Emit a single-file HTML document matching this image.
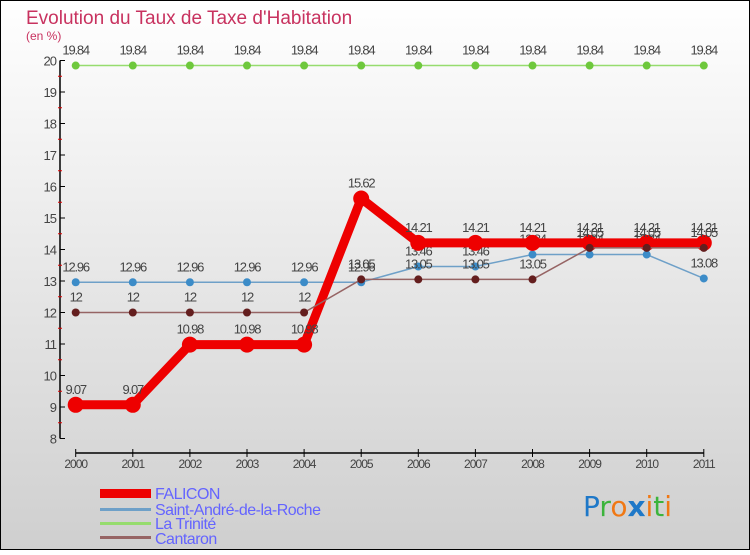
<!DOCTYPE html>
<html><head><meta charset="utf-8"><style>
body{margin:0;}
#c{width:750px;height:550px;position:relative;font-family:"Liberation Sans",sans-serif;}
</style></head><body>
<div id="c">
<svg id="s" width="750" height="550" xmlns="http://www.w3.org/2000/svg" font-family="Liberation Sans, sans-serif">
<defs><linearGradient id="bg" x1="0" y1="0" x2="0" y2="1"><stop offset="0" stop-color="#ffffff"/><stop offset="1" stop-color="#cfcfcf"/></linearGradient></defs>
<rect x="0.5" y="0.5" width="749" height="549" fill="url(#bg)" stroke="#000"/>
<text x="26" y="24" font-size="19" fill="#c8325f">Evolution du Taux de Taxe d'Habitation</text>
<text x="26" y="40" font-size="12" fill="#c8325f">(en %)</text>
<g id="axes"></g><g id="series"></g>
<g font-size="16" fill="#6464ff" letter-spacing="-0.5">
<rect x="100" y="489" width="51" height="9" fill="#e00"/>
<text x="155" y="499">FALICON</text>
<rect x="100" y="508" width="51" height="3" fill="#6ea0c8"/>
<text x="155" y="515">Saint-André-de-la-Roche</text>
<rect x="100" y="522" width="51" height="3" fill="#96dc6e"/>
<text x="155" y="529">La Trinité</text>
<rect x="100" y="536" width="51" height="3" fill="#966464"/>
<text x="155" y="544">Cantaron</text>
</g>
<g font-size="28" font-family="DejaVu Sans, sans-serif">
<text x="583" y="516"><tspan fill="#1e78c8">P</tspan><tspan fill="#3cb43c">r</tspan><tspan fill="#f07814">o</tspan><tspan fill="#1e78c8" font-weight="bold">x</tspan><tspan fill="#f07814">i</tspan><tspan fill="#3cb43c">t</tspan><tspan fill="#f07814">i</tspan></text>
</g>
</svg></div>
<script>
const years=["2000","2001","2002","2003","2004","2005","2006","2007","2008","2009","2010","2011"];
const yTicks=[8,9,10,11,12,13,14,15,16,17,18,19,20];
const falicon=[9.07,9.07,10.98,10.98,10.98,15.62,14.21,14.21,14.21,14.21,14.21,14.21];
const saintAndre=[12.96,12.96,12.96,12.96,12.96,12.96,13.46,13.46,13.84,13.84,13.84,13.08];
const laTrinite=[19.84,19.84,19.84,19.84,19.84,19.84,19.84,19.84,19.84,19.84,19.84,19.84];
const cantaron=[12,12,12,12,12,13.05,13.05,13.05,13.05,14.05,14.05,14.05];
const NS="http://www.w3.org/2000/svg";
const X=i=>75.7+i*57.1;
const Y=v=>438.5-(v-8)*31.5;
function mk(t,a,p){const e=document.createElementNS(NS,t);for(const k in a)e.setAttribute(k,a[k]);(p||document.getElementById('series')).appendChild(e);return e;}
const ax=document.getElementById('axes');
let e=mk('line',{x1:60,y1:Y(20),x2:60,y2:Y(8),stroke:'#000','stroke-width':1.5},ax);

e=mk('line',{x1:X(0),y1:453,x2:X(11),y2:453,stroke:'#000','stroke-width':1.5},ax);

yTicks.forEach((v,i)=>{
 mk('line',{x1:60,y1:Y(v),x2:65,y2:Y(v),stroke:'#000'},ax);
 if(i<yTicks.length-1)mk('line',{x1:58,y1:Y(v+0.5),x2:62,y2:Y(v+0.5),stroke:'#d00'},ax);
 const t=mk('text',{x:56,y:Y(v)+5,'text-anchor':'end','font-size':13,fill:'#444','letter-spacing':'-1'},ax);t.textContent=v;
 
});
years.forEach((y,i)=>{
 mk('line',{x1:X(i),y1:449,x2:X(i),y2:457,stroke:'#000'},ax);
 const t=mk('text',{x:X(i),y:468,'text-anchor':'middle','font-size':12,fill:'#444','letter-spacing':'-1'},ax);t.textContent=y;
 
});
function series(name,data,color,w,r,dot){
 const g=mk('g',{});
 const l=mk('polyline',{points:data.map((v,i)=>X(i)+','+Y(v)).join(' '),fill:'none',stroke:color,'stroke-width':w,'stroke-linejoin':'round'},g);
 
 data.forEach((v,i)=>{
  const c=mk('circle',{cx:X(i),cy:Y(v),r:r,fill:dot},g);
  
  const t=mk('text',{x:X(i),y:Y(v)-11,'text-anchor':'middle','font-size':13,fill:'#444','letter-spacing':'-1.2'},g);
  t.textContent=v.toFixed(2).replace(/\.?0+$/,'');
  
 });
}
series('la-trinite',laTrinite,'#96dc6e',1.5,4,'#6ec83c');
series('saint-andre',saintAndre,'#6ea0c8',1.5,4,'#3c8cc8');
series('falicon',falicon,'#ee0000',9,8,'#ee0000');
series('cantaron',cantaron,'#966464',1.5,4,'#641e1e');
</script>
</body></html>
